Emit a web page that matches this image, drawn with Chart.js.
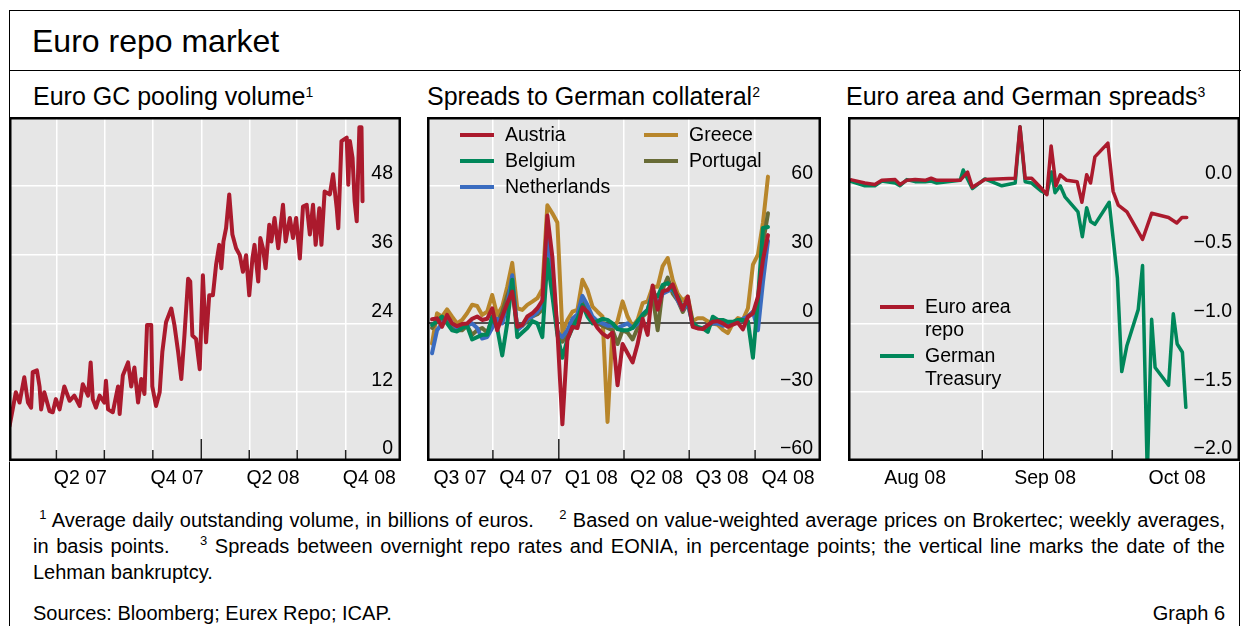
<!DOCTYPE html>
<html>
<head>
<meta charset="utf-8">
<script src="https://cdn.jsdelivr.net/npm/chart.js@4.4.0/dist/chart.umd.min.js"></script>
<style>
  body { margin: 0; background: #fff; font-family: "Liberation Sans", Arial, sans-serif; color: #000; }
  #page { position: relative; width: 1241px; height: 626px; overflow: hidden; }
  .frame { position: absolute; left: 9px; top: 10px; width: 1229px; height: 700px; border: 1.5px solid #000; }
  .sep { position: absolute; left: 9px; top: 70px; width: 1232px; border-top: 1.5px solid #000; }
  .title { position: absolute; left: 32px; top: 25px; font-size: 32px; line-height: 32px; white-space: nowrap; }
  .ptitle { position: absolute; top: 84px; font-size: 25px; line-height: 25px; white-space: nowrap; }
  .ptitle sup { font-size: 14px; vertical-align: top; position: relative; top: -4px; }
  canvas { position: absolute; }
  .leg { position: absolute; font-size: 19.5px; line-height: 23px; white-space: nowrap; }
  .sw { position: absolute; width: 34px; height: 4px; }
  .note { position: absolute; left: 33px; width: 1192px; font-size: 20px; line-height: 26px; white-space: nowrap;
          text-align: justify; text-align-last: justify; }
  .note sup { font-size: 13px; vertical-align: 8px; line-height: 0; }
  .src { position: absolute; top: 600px; font-size: 20px; line-height: 26px; white-space: nowrap; }
</style>
</head>
<body>
<div id="page">
  <div class="frame"></div>
  <div class="sep"></div>
  <div class="title">Euro repo market</div>
  <div class="ptitle" style="left:33px">Euro GC pooling volume<sup>1</sup></div>
  <div class="ptitle" style="left:427px">Spreads to German collateral<sup>2</sup></div>
  <div class="ptitle" style="left:846px">Euro area and German spreads<sup>3</sup></div>

  <canvas id="vol" width="392" height="384" style="left:9px;top:117px"></canvas>
  <canvas id="spr" width="394" height="384" style="left:427px;top:117px"></canvas>
  <canvas id="eur" width="392" height="384" style="left:848px;top:117px"></canvas>

  <div id="legSpr"></div>
  <div id="legEur"></div>

  <div class="note" style="top:507px">&nbsp;<sup>1</sup> Average daily outstanding volume, in billions of euros.&nbsp;&nbsp;&nbsp; <sup>2</sup> Based on value-weighted average prices on Brokertec; weekly averages,</div>
  <div class="note" style="top:533px">in basis points.&nbsp;&nbsp;&nbsp; <sup>3</sup> Spreads between overnight repo rates and EONIA, in percentage points; the vertical line marks the date of the</div>
  <div class="note" style="top:559px;text-align:left;text-align-last:left">Lehman bankruptcy.</div>
  <div class="src" style="left:33px">Sources: Bloomberg; Eurex Repo; ICAP.</div>
  <div class="src" style="right:16px">Graph 6</div>
</div>

<script>
// ---- Euro GC pooling volume (days since 1 Jan 2007, EUR bn) ----
const volDays = [1,7,13,20,29,36,42,45,53,58,61,67,77,83,89,96,105,115,124,134,140,150,155,159,165,172,181,184,188,197,
  207,210,216,226,232,238,245,251,257,262,270,272,279,286,291,298,308,314,321,327,333,340,344,348,355,362,368,374,380,387,
  393,399,403,407,412,418,424,431,438,444,450,456,462,466,473,477,482,487,494,498,504,511,520,525,533,539,545,552,558,565,
  571,577,582,589,593,599,609,615,622,625,631,641,644,647,652,656,660,665,669,671];
const volValues = [6.1,9,12,10.2,14.6,10.2,9.3,15.5,15.8,13,9,12,8.7,8.5,10.8,9,13,10.5,11.4,9.6,13.4,11.4,17.2,10.8,9.3,11.4,10.2,14,9,8.5,
  13,8.2,14.9,17.2,13,16.3,10.2,14.3,11.7,23.7,23.7,13,9.6,12,19,24.2,26.6,23.7,19,14.3,21.9,31.8,31.3,21.9,21.3,16,32.4,20.7,28.9,28.9,
  34.2,37.7,33.6,38.3,40.6,46.5,39.5,37.1,35.9,33,35.9,28.9,35.3,37.7,31.3,38.9,37.1,33.6,41.2,38.3,42.4,37.1,44.7,38.3,42.4,38.9,42.4,35.3,44.4,44.7,
  39.5,44.7,37.7,44.1,37.7,47,46.5,50,44.1,40.6,55.8,56.4,48.2,55.8,52.9,45.3,41.8,58.2,58.2,45.3];
const volQuarterStarts = [90,181,273,365,456,547,639];
const volLabelAt = [135.5,319,501,684];
const volLabels = ['Q2 07','Q4 07','Q2 08','Q4 08'];

// ---- Spreads to German collateral (weekly, days since 1 Jul 2007, basis points) ----
const sprDays = [7,14,21,28,35,42,49,56,63,70,77,84,91,98,105,112,119,126,133,140,147,154,161,168,175,182,189,196,203,210,
  217,224,231,238,245,252,259,266,273,280,287,294,301,308,315,322,329,336,343,350,357,364,371,378,385,392,399,406,413,420,
  427,434,441,448,455,462,469,476];
const austria = [1.8,2.2,-1.5,3.7,0,-1.2,-0.3,0,2,3,1.5,2,6.6,-3,3,8.8,13.9,-1.5,-0.7,3,4.4,6.6,10,47,29,-3,-44,-7,-1.5,-2,
  7,5,1.5,-2,-4.5,-6,-4,-27,-9,-13,-17,-9,2,-5,16.5,6,14,14.6,17,11,6,11.7,-1.5,-2.2,-2.5,-0.7,0.7,1,0,-1.5,
  -0.5,0.3,-2.6,2.9,4.4,11.7,27.8,38.5];
const greece = [-8.8,4.4,2.9,6.1,2.9,0,1.5,4.4,8.1,7.6,3.7,5.1,12.4,3.7,7.3,16,26.4,6.6,5.9,8.1,9.5,11,15,51.5,48,44,-4,1.5,5.1,5.9,
  19,14.6,7.3,5.1,3,-43,-3,1,9.6,3,-1.3,1.6,8.8,9.6,16,16,25,28.5,19,13,10,11.7,1,2.3,2.3,0.9,0,-0.6,-2.8,-4.2,
  0,2.3,1.6,6.6,25.6,30,44,64];
const belgium = [-0.7,1,3,0,-3,-3.5,-2,-1,-7,-6,-5,-5,3,-2,-14,0,19,-6,-4,-2,1,0,-6,28,12,-5,-15,-7,-2,2,
  8,3,0,1,2,1.5,0,-2.5,-3,-3,-2,1,3.7,5.9,13,11.7,16.8,17.6,15,11.7,6.6,10.2,0,-1.5,-2.2,-3.7,2.9,1.5,1.5,0.7,
  0.7,1.5,1.5,1,-15,10.5,41.6,42];
const netherlands = [-13,-3,0,3,0,-2,-1,-1,0,-2,-6.6,-6,-2,2,0,8,21,-3,-1,2,3,5,8,38,22,-4,-6,-3,2,4,
  12,8,3,1,0,-1,-1,-2,-1,0,-2,0,4,6,14,8,13,14,15,10,6,9,-1,-2,-2,-1,0,0,-1,-0.5,
  0,0.5,2,3,5,-3,18,36];
const portugal = [-2,1,2,1,-2,-3,-3,-1,-5,-3,-2,-4,2,0,5,12,18,-2,-1,1,3,4,6,40,22,-3,-8,-4,1,3,
  10,6,2,0,-1,-2,-3,-9,-3,-4,-7,-2,3,5,12,-3,15,20,13,10,5,9,-1,-2,-2,-1,0,0,0,-0.5,
  0,0.5,1.5,3,5,8,35,48];
const sprQuarterStarts = [92,184,275,366,458];
const sprLabelAt = [46,138,229.5,320.5,412,504];
const sprLabels = ['Q3 07','Q4 07','Q1 08','Q2 08','Q3 08','Q4 08'];

// ---- Euro area and German spreads (days since 1 Aug 2008, percentage points) ----
const euroDays = [0.8,3.9,6.2,7.8,10.9,12,13.6,15.5,17.8,19.2,20.5,25.9,27.6,28.7,31.6,38.6,39.7,40.9,42.4,44.7,
  45.9,46.9,48,49,50.5,52.9,54,55.1,56,57,60,61.2,62.4,64.4,68,70.1,74,75.9,77.1,78.2];
const euroRepo = [0.043,0.02,0.01,0.04,0.045,0.01,0.04,0.045,0.04,0.055,0.04,0.04,0.10,-0.01,0.045,0.055,0.43,0.055,0.055,-0.02,
  -0.065,0.29,0.0,0.08,0.04,0.03,-0.12,0.08,0.02,0.21,0.31,-0.04,-0.14,-0.19,-0.39,-0.20,-0.23,-0.27,-0.23,-0.23];
const germanDays = [0.8,3.9,6.2,7.8,10.9,12,13.6,15.5,17.8,19.2,20.5,25.9,26.6,27.6,28.7,31.6,35.5,38.6,39.7,40.9,
  42.4,44.7,45.9,47,47.8,49,50.1,53.1,54.1,55.1,56,57,60.3,62.2,63.2,64.4,67,68,69.1,70.1,70.9,74,75.1,76,77.2,78];
const germanTreasury = [0.03,0.0,0.0,0.035,0.02,0.0,0.045,0.03,0.03,0.035,0.02,0.04,0.115,0.05,-0.02,0.05,0.0,0.02,0.43,0.03,
  0.02,-0.04,-0.06,0.10,-0.05,0.0,-0.08,-0.19,-0.37,-0.16,-0.26,-0.28,-0.12,-0.67,-1.35,-1.16,-0.90,-0.58,-2.1,-0.97,
  -1.32,-1.45,-0.93,-1.15,-1.21,-1.61];
const eurMonthStarts = [31,61];
const eurLabelAt = [15.5,45.5,76];
const eurLabels = ['Aug 08','Sep 08','Oct 08'];
const lehmanDay = 45;

const FONT = '"Liberation Sans", Arial, sans-serif';
const RED = '#ab1a2d', GREEN = '#00875a', GOLD = '#b8862b', BLUE = '#3a6cc0', OLIVE = '#686b36';
Chart.defaults.font.family = FONT;
Chart.defaults.color = '#000';

const pairs = (xs, ys) => xs.map((x, i) => ({ x, y: ys[i] }));
const minus = v => (v < 0 ? '\u2212' : '');

// grey panel, white grid, inside tick marks, mirrored value labels, black frame
const panelPlugin = {
  id: 'panel',
  beforeDraw(chart) {
    const { ctx, chartArea: a } = chart;
    ctx.save();
    ctx.fillStyle = '#e6e6e6';
    ctx.fillRect(a.left, a.top, a.width, a.height);
    ctx.restore();
  },
  beforeDatasetsDraw(chart, args, o) {
    if (o.marker === undefined) return;
    const { ctx, chartArea: a } = chart;
    const x = Math.round(chart.scales.x.getPixelForValue(o.marker)) + 0.5;
    ctx.save();
    ctx.strokeStyle = '#000';
    ctx.lineWidth = 1;
    ctx.beginPath(); ctx.moveTo(x, a.top); ctx.lineTo(x, a.bottom); ctx.stroke();
    ctx.restore();
  },
  afterDraw(chart, args, o) {
    const { ctx, chartArea: a } = chart;
    const xs = chart.scales.x, ys = chart.scales.y;
    ctx.save();
    ctx.strokeStyle = '#222';
    ctx.lineWidth = 1.5;
    o.marks.forEach(v => {
      const x = xs.getPixelForValue(v);
      ctx.beginPath(); ctx.moveTo(x, a.bottom); ctx.lineTo(x, a.bottom - (v === o.longMark ? 22 : 11)); ctx.stroke();
    });
    ctx.fillStyle = '#000';
    ctx.font = '19.5px ' + FONT;
    ctx.textAlign = 'right';
    ctx.textBaseline = 'middle';
    ys.ticks.forEach(t => {
      if (t.value >= ys.max - 1e-9) return;
      ctx.fillText(o.fmt(t.value), a.right - 8, ys.getPixelForValue(t.value) - 12);
    });
    ctx.strokeStyle = '#000';
    ctx.lineWidth = 2.5;
    ctx.strokeRect(a.left + 1.25, a.top + 1.25, a.width - 2.5, a.height - 2.5);
    ctx.restore();
  }
};
Chart.register(panelPlugin);

function xAxis(min, max, bounds, mids, labels) {
  return {
    type: 'linear', min, max,
    afterBuildTicks: s => {
      s.ticks = bounds.concat(mids).sort((p, q) => p - q).map(v => ({ value: v }));
    },
    afterFit: s => { s.height = 40; s.paddingLeft = 0; s.paddingRight = 0; },
    border: { display: false },
    grid: {
      drawTicks: false, lineWidth: 1.5,
      color: c => (c.tick && bounds.includes(c.tick.value) ? '#ffffff' : 'rgba(0,0,0,0)')
    },
    ticks: {
      autoSkip: false, maxRotation: 0, padding: 6, color: '#000', font: { size: 19.5 },
      callback: v => { const i = mids.indexOf(v); return i < 0 ? '' : labels[i]; }
    }
  };
}

function yAxis(min, max, step, zeroDark) {
  return {
    type: 'linear', position: 'right', min, max,
    afterFit: s => { s.width = 0; s.paddingTop = 0; s.paddingBottom = 0; },
    border: { display: false },
    grid: {
      drawTicks: false,
      color: c => (zeroDark && c.tick && c.tick.value === 0 ? '#505050' : '#ffffff'),
      lineWidth: c => (zeroDark && c.tick && c.tick.value === 0 ? 2 : 1.5)
    },
    ticks: { display: false, stepSize: step }
  };
}

function line(label, data, color, width) {
  return { label, data, borderColor: color, backgroundColor: color, borderWidth: width,
           pointRadius: 0, tension: 0, borderJoinStyle: 'round', borderCapStyle: 'round' };
}

const base = { responsive: false, animation: false, events: [], layout: { padding: 0 } };

new Chart(document.getElementById('vol'), {
  type: 'line',
  data: { datasets: [line('Euro GC pooling volume', pairs(volDays, volValues), RED, 4)] },
  options: Object.assign({}, base, {
    scales: { x: xAxis(0, 744, volQuarterStarts, volLabelAt, volLabels), y: yAxis(0, 60, 12, false) },
    plugins: { legend: { display: false }, tooltip: { enabled: false },
      panel: { marks: volQuarterStarts, longMark: 365, fmt: v => String(v) } }
  })
});

new Chart(document.getElementById('spr'), {
  type: 'line',
  data: { datasets: [
    line('Austria', pairs(sprDays, austria), RED, 4),
    line('Belgium', pairs(sprDays, belgium), GREEN, 4),
    line('Netherlands', pairs(sprDays, netherlands), BLUE, 4),
    line('Portugal', pairs(sprDays, portugal), OLIVE, 4),
    line('Greece', pairs(sprDays, greece), GOLD, 4)
  ] },
  options: Object.assign({}, base, {
    scales: { x: xAxis(0, 550, sprQuarterStarts, sprLabelAt, sprLabels), y: yAxis(-60, 90, 30, true) },
    plugins: { legend: { display: false }, tooltip: { enabled: false },
      panel: { marks: sprQuarterStarts, longMark: 184, fmt: v => minus(v) + Math.abs(v) } }
  })
});

new Chart(document.getElementById('eur'), {
  type: 'line',
  data: { datasets: [
    line('Euro area repo', pairs(euroDays, euroRepo), RED, 3.5),
    line('German Treasury', pairs(germanDays, germanTreasury), GREEN, 3.5)
  ] },
  options: Object.assign({}, base, {
    scales: { x: xAxis(0, 90.5, eurMonthStarts, eurLabelAt, eurLabels), y: yAxis(-2, 0.5, 0.5, false) },
    plugins: { legend: { display: false }, tooltip: { enabled: false },
      panel: { marks: eurMonthStarts, longMark: null, marker: lehmanDay, fmt: v => minus(v) + Math.abs(v).toFixed(1) } }
  })
});

// legends as positioned text
function legendItem(host, x, y, color, text) {
  const sw = document.createElement('div');
  sw.className = 'sw';
  sw.style.left = x + 'px'; sw.style.top = (y - 2) + 'px'; sw.style.background = color;
  const t = document.createElement('div');
  t.className = 'leg';
  t.style.left = (x + 45) + 'px'; t.style.top = (y - 12) + 'px';
  t.innerHTML = text;
  host.appendChild(sw); host.appendChild(t);
}
const legSpr = document.getElementById('legSpr');
legendItem(legSpr, 460, 135, RED, 'Austria');
legendItem(legSpr, 460, 161, GREEN, 'Belgium');
legendItem(legSpr, 460, 187, BLUE, 'Netherlands');
legendItem(legSpr, 644, 135, GOLD, 'Greece');
legendItem(legSpr, 644, 161, OLIVE, 'Portugal');
const legEur = document.getElementById('legEur');
legendItem(legEur, 880, 307, RED, 'Euro area<br>repo');
legendItem(legEur, 880, 356, GREEN, 'German<br>Treasury');
</script>
</body>
</html>
